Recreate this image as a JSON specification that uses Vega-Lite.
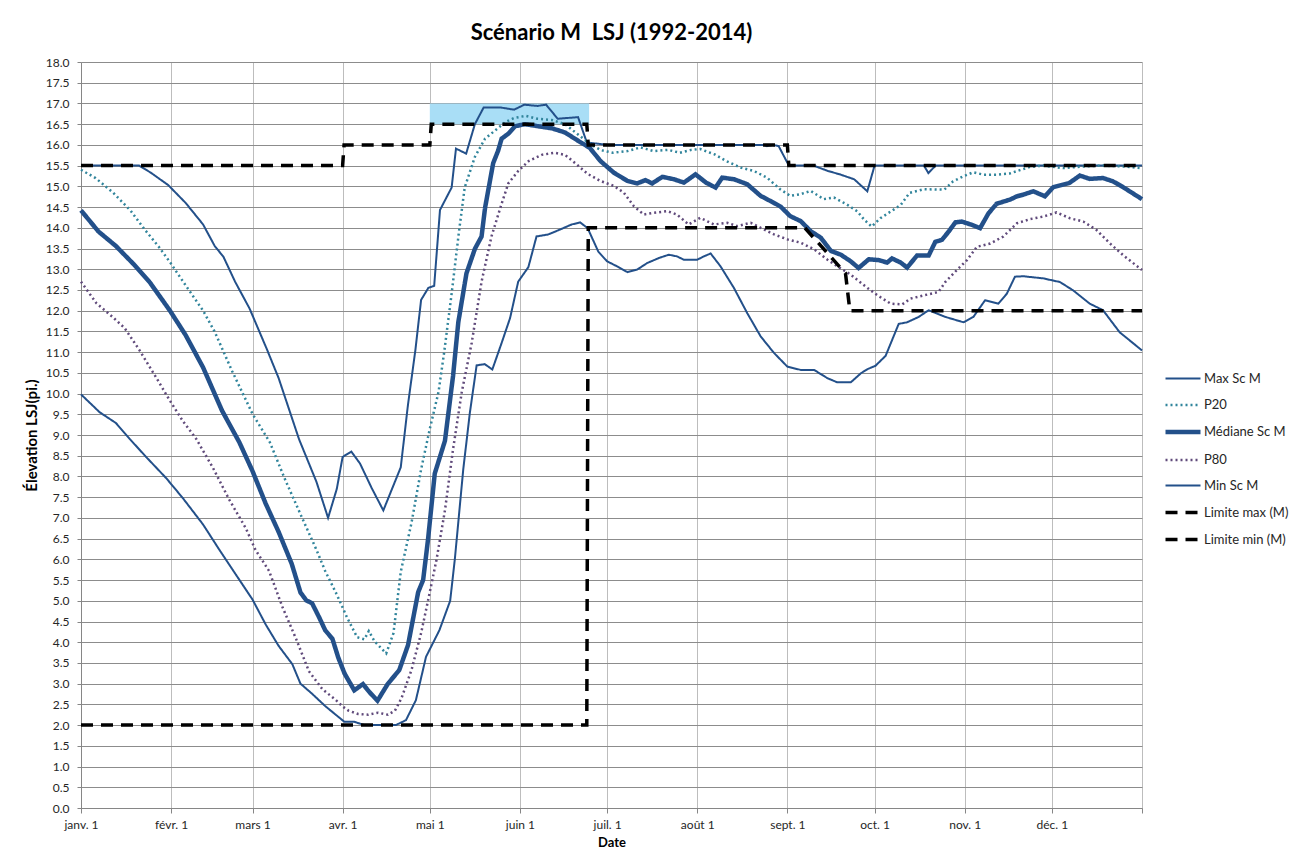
{
"$schema": "https://vega.github.io/schema/vega-lite/v6.json",
"width": 1061, "height": 746,
"autosize": {"type": "none"},
"padding": {"left": 81, "top": 62, "right": 165, "bottom": 58},
"background": "white",
"title": {"text": "Scénario M\u00a0 LSJ (1992-2014)", "fontSize": 22, "font": "Lato", "fontWeight": "bold", "color": "#000000", "anchor": "middle", "offset": 11},
"datasets": {
"zone": [{"jour": 120, "jour_fin": 174.8, "val": 16.5, "val_haut": 17.0}],
"series": [
{"serie":"Max Sc M","jour":0,"val":15.5},{"serie":"Max Sc M","jour":20,"val":15.5},{"serie":"Max Sc M","jour":24,"val":15.33},{"serie":"Max Sc M","jour":30,"val":15.03},{"serie":"Max Sc M","jour":36,"val":14.6},{"serie":"Max Sc M","jour":42,"val":14.08},{"serie":"Max Sc M","jour":46,"val":13.56},{"serie":"Max Sc M","jour":49,"val":13.3},{"serie":"Max Sc M","jour":53,"val":12.7},{"serie":"Max Sc M","jour":58,"val":12.05},{"serie":"Max Sc M","jour":64,"val":11.06},{"serie":"Max Sc M","jour":68,"val":10.37},{"serie":"Max Sc M","jour":75,"val":8.9},{"serie":"Max Sc M","jour":81,"val":7.87},{"serie":"Max Sc M","jour":85,"val":7.0},{"serie":"Max Sc M","jour":88,"val":7.7},{"serie":"Max Sc M","jour":90,"val":8.47},{"serie":"Max Sc M","jour":93,"val":8.6},{"serie":"Max Sc M","jour":96,"val":8.31},{"serie":"Max Sc M","jour":100,"val":7.72},{"serie":"Max Sc M","jour":104,"val":7.18},{"serie":"Max Sc M","jour":110,"val":8.22},{"serie":"Max Sc M","jour":112.5,"val":9.74},{"serie":"Max Sc M","jour":115,"val":11.03},{"serie":"Max Sc M","jour":117,"val":12.26},{"serie":"Max Sc M","jour":119.5,"val":12.55},{"serie":"Max Sc M","jour":121.5,"val":12.6},{"serie":"Max Sc M","jour":123.5,"val":14.43},{"serie":"Max Sc M","jour":127.5,"val":14.97},{"serie":"Max Sc M","jour":129,"val":15.91},{"serie":"Max Sc M","jour":132.5,"val":15.79},{"serie":"Max Sc M","jour":135.5,"val":16.5},{"serie":"Max Sc M","jour":138.5,"val":16.9},{"serie":"Max Sc M","jour":144.5,"val":16.9},{"serie":"Max Sc M","jour":149,"val":16.85},{"serie":"Max Sc M","jour":152.5,"val":16.97},{"serie":"Max Sc M","jour":157,"val":16.94},{"serie":"Max Sc M","jour":160,"val":16.97},{"serie":"Max Sc M","jour":164,"val":16.63},{"serie":"Max Sc M","jour":171,"val":16.67},{"serie":"Max Sc M","jour":174,"val":16.06},{"serie":"Max Sc M","jour":181,"val":16.0},{"serie":"Max Sc M","jour":235,"val":16.0},{"serie":"Max Sc M","jour":236,"val":15.97},{"serie":"Max Sc M","jour":238,"val":16.0},{"serie":"Max Sc M","jour":240,"val":15.97},{"serie":"Max Sc M","jour":243,"val":15.57},{"serie":"Max Sc M","jour":244,"val":15.5},{"serie":"Max Sc M","jour":252,"val":15.5},{"serie":"Max Sc M","jour":257,"val":15.37},{"serie":"Max Sc M","jour":261,"val":15.29},{"serie":"Max Sc M","jour":266,"val":15.17},{"serie":"Max Sc M","jour":270.5,"val":14.88},{"serie":"Max Sc M","jour":273,"val":15.5},{"serie":"Max Sc M","jour":290,"val":15.5},{"serie":"Max Sc M","jour":291.5,"val":15.32},{"serie":"Max Sc M","jour":294,"val":15.5},{"serie":"Max Sc M","jour":365,"val":15.5},
{"serie":"P20","jour":0,"val":15.4},{"serie":"P20","jour":5,"val":15.2},{"serie":"P20","jour":11,"val":14.85},{"serie":"P20","jour":17,"val":14.42},{"serie":"P20","jour":22,"val":13.95},{"serie":"P20","jour":27,"val":13.52},{"serie":"P20","jour":31,"val":13.13},{"serie":"P20","jour":36,"val":12.61},{"serie":"P20","jour":42,"val":12.0},{"serie":"P20","jour":46,"val":11.49},{"serie":"P20","jour":52,"val":10.54},{"serie":"P20","jour":59,"val":9.51},{"serie":"P20","jour":65,"val":8.82},{"serie":"P20","jour":70,"val":7.96},{"serie":"P20","jour":76,"val":7.01},{"serie":"P20","jour":81,"val":6.23},{"serie":"P20","jour":84,"val":5.72},{"serie":"P20","jour":88,"val":5.15},{"serie":"P20","jour":91.5,"val":4.6},{"serie":"P20","jour":95,"val":4.12},{"serie":"P20","jour":97.5,"val":4.07},{"serie":"P20","jour":99,"val":4.27},{"serie":"P20","jour":101,"val":4.02},{"serie":"P20","jour":105,"val":3.73},{"serie":"P20","jour":107.5,"val":4.22},{"serie":"P20","jour":110,"val":5.7},{"serie":"P20","jour":113.7,"val":6.88},{"serie":"P20","jour":117,"val":8.17},{"serie":"P20","jour":120,"val":9.15},{"serie":"P20","jour":123,"val":10.04},{"serie":"P20","jour":125,"val":11.03},{"serie":"P20","jour":127.5,"val":12.41},{"serie":"P20","jour":130,"val":13.89},{"serie":"P20","jour":132,"val":14.97},{"serie":"P20","jour":135.5,"val":15.71},{"serie":"P20","jour":139,"val":16.15},{"serie":"P20","jour":142.5,"val":16.35},{"serie":"P20","jour":146,"val":16.55},{"serie":"P20","jour":149,"val":16.65},{"serie":"P20","jour":153,"val":16.7},{"serie":"P20","jour":157,"val":16.63},{"serie":"P20","jour":162,"val":16.6},{"serie":"P20","jour":166.5,"val":16.5},{"serie":"P20","jour":171,"val":16.25},{"serie":"P20","jour":175.5,"val":16.0},{"serie":"P20","jour":179,"val":15.87},{"serie":"P20","jour":183,"val":15.81},{"serie":"P20","jour":188,"val":15.85},{"serie":"P20","jour":192.5,"val":15.94},{"serie":"P20","jour":197,"val":15.85},{"serie":"P20","jour":202,"val":15.88},{"serie":"P20","jour":206,"val":15.81},{"serie":"P20","jour":210,"val":15.88},{"serie":"P20","jour":213,"val":15.9},{"serie":"P20","jour":218,"val":15.77},{"serie":"P20","jour":222,"val":15.61},{"serie":"P20","jour":227,"val":15.45},{"serie":"P20","jour":231.5,"val":15.37},{"serie":"P20","jour":236,"val":15.21},{"serie":"P20","jour":240.5,"val":14.93},{"serie":"P20","jour":244,"val":14.77},{"serie":"P20","jour":247.5,"val":14.81},{"serie":"P20","jour":251,"val":14.89},{"serie":"P20","jour":255.5,"val":14.69},{"serie":"P20","jour":259,"val":14.73},{"serie":"P20","jour":263.5,"val":14.56},{"serie":"P20","jour":267,"val":14.4},{"serie":"P20","jour":269.5,"val":14.19},{"serie":"P20","jour":272,"val":14.03},{"serie":"P20","jour":275,"val":14.23},{"serie":"P20","jour":278.5,"val":14.39},{"serie":"P20","jour":282,"val":14.55},{"serie":"P20","jour":285,"val":14.84},{"serie":"P20","jour":290,"val":14.93},{"serie":"P20","jour":297,"val":14.92},{"serie":"P20","jour":300,"val":15.12},{"serie":"P20","jour":303.5,"val":15.24},{"serie":"P20","jour":307,"val":15.34},{"serie":"P20","jour":310.5,"val":15.28},{"serie":"P20","jour":315,"val":15.28},{"serie":"P20","jour":319.5,"val":15.31},{"serie":"P20","jour":323,"val":15.39},{"serie":"P20","jour":326.5,"val":15.47},{"serie":"P20","jour":331,"val":15.5},{"serie":"P20","jour":338,"val":15.44},{"serie":"P20","jour":345,"val":15.48},{"serie":"P20","jour":351.5,"val":15.5},{"serie":"P20","jour":358.5,"val":15.48},{"serie":"P20","jour":365,"val":15.44},
{"serie":"Médiane Sc M","jour":0,"val":14.42},{"serie":"Médiane Sc M","jour":6,"val":13.91},{"serie":"Médiane Sc M","jour":12,"val":13.56},{"serie":"Médiane Sc M","jour":18,"val":13.13},{"serie":"Médiane Sc M","jour":23.5,"val":12.7},{"serie":"Médiane Sc M","jour":30.5,"val":12.01},{"serie":"Médiane Sc M","jour":36,"val":11.41},{"serie":"Médiane Sc M","jour":42,"val":10.63},{"serie":"Médiane Sc M","jour":48.5,"val":9.59},{"serie":"Médiane Sc M","jour":54.5,"val":8.82},{"serie":"Médiane Sc M","jour":59,"val":8.13},{"serie":"Médiane Sc M","jour":63.5,"val":7.35},{"serie":"Médiane Sc M","jour":68,"val":6.66},{"serie":"Médiane Sc M","jour":72.5,"val":5.89},{"serie":"Médiane Sc M","jour":75.5,"val":5.2},{"serie":"Médiane Sc M","jour":77.5,"val":5.01},{"serie":"Médiane Sc M","jour":79.5,"val":4.94},{"serie":"Médiane Sc M","jour":82,"val":4.59},{"serie":"Médiane Sc M","jour":84,"val":4.29},{"serie":"Médiane Sc M","jour":86.5,"val":4.08},{"serie":"Médiane Sc M","jour":88.5,"val":3.63},{"serie":"Médiane Sc M","jour":90.7,"val":3.24},{"serie":"Médiane Sc M","jour":94,"val":2.84},{"serie":"Médiane Sc M","jour":97,"val":2.99},{"serie":"Médiane Sc M","jour":99.3,"val":2.79},{"serie":"Médiane Sc M","jour":102,"val":2.59},{"serie":"Médiane Sc M","jour":105.5,"val":2.99},{"serie":"Médiane Sc M","jour":109.5,"val":3.33},{"serie":"Médiane Sc M","jour":112.5,"val":3.93},{"serie":"Médiane Sc M","jour":116,"val":5.21},{"serie":"Médiane Sc M","jour":117.7,"val":5.5},{"serie":"Médiane Sc M","jour":119.4,"val":6.49},{"serie":"Médiane Sc M","jour":121.7,"val":8.07},{"serie":"Médiane Sc M","jour":125.2,"val":8.86},{"serie":"Médiane Sc M","jour":128,"val":10.43},{"serie":"Médiane Sc M","jour":129.8,"val":11.72},{"serie":"Médiane Sc M","jour":132.6,"val":12.9},{"serie":"Médiane Sc M","jour":135.5,"val":13.49},{"serie":"Médiane Sc M","jour":137.8,"val":13.79},{"serie":"Médiane Sc M","jour":139,"val":14.48},{"serie":"Médiane Sc M","jour":141.8,"val":15.56},{"serie":"Médiane Sc M","jour":143.5,"val":15.86},{"serie":"Médiane Sc M","jour":144.7,"val":16.15},{"serie":"Médiane Sc M","jour":147,"val":16.27},{"serie":"Médiane Sc M","jour":149.3,"val":16.45},{"serie":"Médiane Sc M","jour":152.7,"val":16.5},{"serie":"Médiane Sc M","jour":157.3,"val":16.45},{"serie":"Médiane Sc M","jour":162,"val":16.4},{"serie":"Médiane Sc M","jour":166.5,"val":16.3},{"serie":"Médiane Sc M","jour":171,"val":16.1},{"serie":"Médiane Sc M","jour":175,"val":15.93},{"serie":"Médiane Sc M","jour":178.7,"val":15.61},{"serie":"Médiane Sc M","jour":183.3,"val":15.33},{"serie":"Médiane Sc M","jour":188,"val":15.13},{"serie":"Médiane Sc M","jour":191.3,"val":15.07},{"serie":"Médiane Sc M","jour":194.2,"val":15.15},{"serie":"Médiane Sc M","jour":196.5,"val":15.07},{"serie":"Médiane Sc M","jour":200,"val":15.23},{"serie":"Médiane Sc M","jour":204,"val":15.17},{"serie":"Médiane Sc M","jour":207.4,"val":15.09},{"serie":"Médiane Sc M","jour":211.4,"val":15.29},{"serie":"Médiane Sc M","jour":215,"val":15.09},{"serie":"Médiane Sc M","jour":218.3,"val":14.97},{"serie":"Médiane Sc M","jour":220.6,"val":15.21},{"serie":"Médiane Sc M","jour":224.7,"val":15.17},{"serie":"Médiane Sc M","jour":229.2,"val":15.05},{"serie":"Médiane Sc M","jour":233.8,"val":14.77},{"serie":"Médiane Sc M","jour":238.4,"val":14.6},{"serie":"Médiane Sc M","jour":240.7,"val":14.51},{"serie":"Médiane Sc M","jour":244,"val":14.28},{"serie":"Médiane Sc M","jour":247.6,"val":14.16},{"serie":"Médiane Sc M","jour":251,"val":13.92},{"serie":"Médiane Sc M","jour":254.5,"val":13.76},{"serie":"Médiane Sc M","jour":258,"val":13.44},{"serie":"Médiane Sc M","jour":261.4,"val":13.35},{"serie":"Médiane Sc M","jour":264.8,"val":13.19},{"serie":"Médiane Sc M","jour":267.5,"val":13.03},{"serie":"Médiane Sc M","jour":271,"val":13.24},{"serie":"Médiane Sc M","jour":274.5,"val":13.22},{"serie":"Médiane Sc M","jour":277.3,"val":13.16},{"serie":"Médiane Sc M","jour":279,"val":13.26},{"serie":"Médiane Sc M","jour":282,"val":13.16},{"serie":"Médiane Sc M","jour":284.2,"val":13.04},{"serie":"Médiane Sc M","jour":287.6,"val":13.33},{"serie":"Médiane Sc M","jour":291.6,"val":13.33},{"serie":"Médiane Sc M","jour":293.9,"val":13.66},{"serie":"Médiane Sc M","jour":296.2,"val":13.71},{"serie":"Médiane Sc M","jour":298.5,"val":13.91},{"serie":"Médiane Sc M","jour":300.8,"val":14.13},{"serie":"Médiane Sc M","jour":303,"val":14.15},{"serie":"Médiane Sc M","jour":306.5,"val":14.07},{"serie":"Médiane Sc M","jour":309.3,"val":13.99},{"serie":"Médiane Sc M","jour":312.2,"val":14.35},{"serie":"Médiane Sc M","jour":315,"val":14.58},{"serie":"Médiane Sc M","jour":319.6,"val":14.68},{"serie":"Médiane Sc M","jour":322,"val":14.76},{"serie":"Médiane Sc M","jour":324.2,"val":14.8},{"serie":"Médiane Sc M","jour":327.6,"val":14.88},{"serie":"Médiane Sc M","jour":331.6,"val":14.76},{"serie":"Médiane Sc M","jour":334.5,"val":14.98},{"serie":"Médiane Sc M","jour":340,"val":15.08},{"serie":"Médiane Sc M","jour":343.6,"val":15.26},{"serie":"Médiane Sc M","jour":347,"val":15.18},{"serie":"Médiane Sc M","jour":351.6,"val":15.2},{"serie":"Médiane Sc M","jour":355,"val":15.12},{"serie":"Médiane Sc M","jour":358.5,"val":14.98},{"serie":"Médiane Sc M","jour":365,"val":14.69},
{"serie":"P80","jour":0,"val":12.7},{"serie":"P80","jour":5.3,"val":12.18},{"serie":"P80","jour":11,"val":11.84},{"serie":"P80","jour":15,"val":11.58},{"serie":"P80","jour":20,"val":11.06},{"serie":"P80","jour":26,"val":10.37},{"serie":"P80","jour":30.4,"val":9.85},{"serie":"P80","jour":35,"val":9.34},{"serie":"P80","jour":39.6,"val":8.91},{"serie":"P80","jour":45.3,"val":8.22},{"serie":"P80","jour":51,"val":7.44},{"serie":"P80","jour":56.7,"val":6.75},{"serie":"P80","jour":60,"val":6.23},{"serie":"P80","jour":64.7,"val":5.72},{"serie":"P80","jour":69.3,"val":4.85},{"serie":"P80","jour":74,"val":4.08},{"serie":"P80","jour":78.4,"val":3.3},{"serie":"P80","jour":83,"val":2.87},{"serie":"P80","jour":87.6,"val":2.61},{"serie":"P80","jour":90,"val":2.45},{"serie":"P80","jour":92,"val":2.35},{"serie":"P80","jour":95.3,"val":2.27},{"serie":"P80","jour":98.8,"val":2.25},{"serie":"P80","jour":102.2,"val":2.3},{"serie":"P80","jour":105.6,"val":2.25},{"serie":"P80","jour":108,"val":2.35},{"serie":"P80","jour":110.2,"val":2.64},{"serie":"P80","jour":113.7,"val":3.33},{"serie":"P80","jour":117,"val":4.22},{"serie":"P80","jour":119.4,"val":5.01},{"serie":"P80","jour":122.3,"val":5.99},{"serie":"P80","jour":125.2,"val":7.18},{"serie":"P80","jour":128,"val":8.66},{"serie":"P80","jour":131,"val":10.04},{"serie":"P80","jour":134.4,"val":11.22},{"serie":"P80","jour":137.8,"val":12.7},{"serie":"P80","jour":141.2,"val":13.79},{"serie":"P80","jour":144.7,"val":14.58},{"serie":"P80","jour":147,"val":15.07},{"serie":"P80","jour":150.4,"val":15.37},{"serie":"P80","jour":154,"val":15.61},{"serie":"P80","jour":158.5,"val":15.76},{"serie":"P80","jour":163,"val":15.81},{"serie":"P80","jour":166.5,"val":15.76},{"serie":"P80","jour":170,"val":15.56},{"serie":"P80","jour":174.3,"val":15.3},{"serie":"P80","jour":178.7,"val":15.13},{"serie":"P80","jour":183.3,"val":15.01},{"serie":"P80","jour":186.7,"val":14.85},{"serie":"P80","jour":190.2,"val":14.52},{"serie":"P80","jour":193.6,"val":14.32},{"serie":"P80","jour":197,"val":14.36},{"serie":"P80","jour":201.7,"val":14.4},{"serie":"P80","jour":205,"val":14.32},{"serie":"P80","jour":209,"val":14.08},{"serie":"P80","jour":213,"val":14.24},{"serie":"P80","jour":217.7,"val":14.08},{"serie":"P80","jour":222.3,"val":14.12},{"serie":"P80","jour":225.8,"val":14.04},{"serie":"P80","jour":230.4,"val":14.12},{"serie":"P80","jour":233.8,"val":14.0},{"serie":"P80","jour":238.4,"val":13.84},{"serie":"P80","jour":243,"val":13.72},{"serie":"P80","jour":247.6,"val":13.64},{"serie":"P80","jour":252.2,"val":13.48},{"serie":"P80","jour":256.8,"val":13.23},{"serie":"P80","jour":260.2,"val":13.07},{"serie":"P80","jour":264.8,"val":12.87},{"serie":"P80","jour":267.1,"val":12.74},{"serie":"P80","jour":270.5,"val":12.55},{"serie":"P80","jour":274,"val":12.37},{"serie":"P80","jour":278.5,"val":12.17},{"serie":"P80","jour":282.5,"val":12.15},{"serie":"P80","jour":285.3,"val":12.29},{"serie":"P80","jour":290,"val":12.37},{"serie":"P80","jour":295,"val":12.45},{"serie":"P80","jour":297.3,"val":12.69},{"serie":"P80","jour":301.3,"val":12.98},{"serie":"P80","jour":304.8,"val":13.22},{"serie":"P80","jour":308.2,"val":13.54},{"serie":"P80","jour":312.8,"val":13.62},{"serie":"P80","jour":317.3,"val":13.79},{"serie":"P80","jour":322,"val":14.11},{"serie":"P80","jour":326.5,"val":14.21},{"serie":"P80","jour":331,"val":14.27},{"serie":"P80","jour":335.6,"val":14.37},{"serie":"P80","jour":340.2,"val":14.23},{"serie":"P80","jour":344.8,"val":14.15},{"serie":"P80","jour":349.3,"val":13.95},{"serie":"P80","jour":354,"val":13.62},{"serie":"P80","jour":358.5,"val":13.34},{"serie":"P80","jour":365,"val":12.98},
{"serie":"Min Sc M","jour":0,"val":9.98},{"serie":"Min Sc M","jour":6.4,"val":9.55},{"serie":"Min Sc M","jour":12,"val":9.29},{"serie":"Min Sc M","jour":16.7,"val":8.91},{"serie":"Min Sc M","jour":22.4,"val":8.47},{"serie":"Min Sc M","jour":29.3,"val":7.96},{"serie":"Min Sc M","jour":35,"val":7.48},{"serie":"Min Sc M","jour":42,"val":6.84},{"serie":"Min Sc M","jour":47.6,"val":6.23},{"serie":"Min Sc M","jour":53.3,"val":5.63},{"serie":"Min Sc M","jour":59,"val":5.03},{"serie":"Min Sc M","jour":63.6,"val":4.42},{"serie":"Min Sc M","jour":68,"val":3.91},{"serie":"Min Sc M","jour":72.7,"val":3.47},{"serie":"Min Sc M","jour":75.5,"val":3.0},{"serie":"Min Sc M","jour":79.6,"val":2.75},{"serie":"Min Sc M","jour":84,"val":2.46},{"serie":"Min Sc M","jour":90.6,"val":2.08},{"serie":"Min Sc M","jour":94,"val":2.08},{"serie":"Min Sc M","jour":97.5,"val":2.0},{"serie":"Min Sc M","jour":108.3,"val":2.0},{"serie":"Min Sc M","jour":111.8,"val":2.12},{"serie":"Min Sc M","jour":115.2,"val":2.6},{"serie":"Min Sc M","jour":118.7,"val":3.65},{"serie":"Min Sc M","jour":123.3,"val":4.29},{"serie":"Min Sc M","jour":127,"val":5.0},{"serie":"Min Sc M","jour":128.6,"val":6.0},{"serie":"Min Sc M","jour":131.5,"val":8.17},{"serie":"Min Sc M","jour":133.8,"val":9.55},{"serie":"Min Sc M","jour":136.1,"val":10.68},{"serie":"Min Sc M","jour":138.9,"val":10.71},{"serie":"Min Sc M","jour":141.5,"val":10.58},{"serie":"Min Sc M","jour":144.7,"val":11.22},{"serie":"Min Sc M","jour":147.6,"val":11.82},{"serie":"Min Sc M","jour":150.4,"val":12.7},{"serie":"Min Sc M","jour":153.9,"val":13.05},{"serie":"Min Sc M","jour":156.7,"val":13.79},{"serie":"Min Sc M","jour":160.8,"val":13.84},{"serie":"Min Sc M","jour":164.2,"val":13.94},{"serie":"Min Sc M","jour":168.8,"val":14.08},{"serie":"Min Sc M","jour":171.7,"val":14.13},{"serie":"Min Sc M","jour":174.3,"val":13.99},{"serie":"Min Sc M","jour":178,"val":13.42},{"serie":"Min Sc M","jour":181,"val":13.19},{"serie":"Min Sc M","jour":184.4,"val":13.07},{"serie":"Min Sc M","jour":188,"val":12.93},{"serie":"Min Sc M","jour":191.3,"val":12.99},{"serie":"Min Sc M","jour":194.8,"val":13.15},{"serie":"Min Sc M","jour":198.8,"val":13.27},{"serie":"Min Sc M","jour":202.2,"val":13.35},{"serie":"Min Sc M","jour":205,"val":13.31},{"serie":"Min Sc M","jour":207.4,"val":13.23},{"serie":"Min Sc M","jour":212,"val":13.23},{"serie":"Min Sc M","jour":214.3,"val":13.31},{"serie":"Min Sc M","jour":216.6,"val":13.38},{"serie":"Min Sc M","jour":220,"val":13.07},{"serie":"Min Sc M","jour":224.6,"val":12.55},{"serie":"Min Sc M","jour":229.2,"val":11.94},{"serie":"Min Sc M","jour":233.8,"val":11.38},{"serie":"Min Sc M","jour":238.4,"val":10.98},{"serie":"Min Sc M","jour":243,"val":10.65},{"serie":"Min Sc M","jour":247.6,"val":10.57},{"serie":"Min Sc M","jour":252.2,"val":10.57},{"serie":"Min Sc M","jour":256.8,"val":10.37},{"serie":"Min Sc M","jour":260.2,"val":10.27},{"serie":"Min Sc M","jour":264.8,"val":10.27},{"serie":"Min Sc M","jour":268.3,"val":10.49},{"serie":"Min Sc M","jour":270.6,"val":10.59},{"serie":"Min Sc M","jour":273.3,"val":10.67},{"serie":"Min Sc M","jour":276.8,"val":10.91},{"serie":"Min Sc M","jour":281.3,"val":11.68},{"serie":"Min Sc M","jour":284.2,"val":11.72},{"serie":"Min Sc M","jour":288.2,"val":11.85},{"serie":"Min Sc M","jour":291.6,"val":12.01},{"serie":"Min Sc M","jour":297.3,"val":11.85},{"serie":"Min Sc M","jour":303.6,"val":11.72},{"serie":"Min Sc M","jour":307,"val":11.85},{"serie":"Min Sc M","jour":311,"val":12.25},{"serie":"Min Sc M","jour":315.6,"val":12.17},{"serie":"Min Sc M","jour":318.5,"val":12.41},{"serie":"Min Sc M","jour":321.3,"val":12.82},{"serie":"Min Sc M","jour":324.2,"val":12.83},{"serie":"Min Sc M","jour":331,"val":12.78},{"serie":"Min Sc M","jour":336.8,"val":12.69},{"serie":"Min Sc M","jour":341.3,"val":12.49},{"serie":"Min Sc M","jour":347,"val":12.17},{"serie":"Min Sc M","jour":351.6,"val":12.01},{"serie":"Min Sc M","jour":357.3,"val":11.48},{"serie":"Min Sc M","jour":365,"val":11.04},
{"serie":"Limite max (M)","jour":0,"val":15.5},{"serie":"Limite max (M)","jour":90,"val":15.5},{"serie":"Limite max (M)","jour":90.5,"val":16.0},{"serie":"Limite max (M)","jour":120,"val":16.0},{"serie":"Limite max (M)","jour":120.5,"val":16.5},{"serie":"Limite max (M)","jour":174,"val":16.5},{"serie":"Limite max (M)","jour":174.5,"val":16.0},{"serie":"Limite max (M)","jour":243,"val":16.0},{"serie":"Limite max (M)","jour":243.5,"val":15.5},{"serie":"Limite max (M)","jour":365,"val":15.5},
{"serie":"Limite min (M)","jour":0,"val":2.0},{"serie":"Limite min (M)","jour":174,"val":2.0},{"serie":"Limite min (M)","jour":174.5,"val":14.0},{"serie":"Limite min (M)","jour":249,"val":14.0},{"serie":"Limite min (M)","jour":263,"val":12.9},{"serie":"Limite min (M)","jour":264.5,"val":12.0},{"serie":"Limite min (M)","jour":365,"val":12.0}
]},
"encoding": {
  "x": {"field": "jour", "type": "quantitative", "title": "Date",
        "scale": {"domain": [0, 365], "nice": false, "zero": false},
        "axis": {"values": [0,31,59,90,120,151,181,212,243,273,304,334,365],
                 "labelExpr": "['janv. 1','févr. 1','mars 1','avr. 1','mai 1','juin 1','juil. 1','août 1','sept. 1','oct. 1','nov. 1','déc. 1',''][indexof([0,31,59,90,120,151,181,212,243,273,304,334,365], datum.value)]",
                 "grid": true, "gridColor": "#BDBDBD", "tickSize": 5, "tickColor": "#868686", "domainColor": "#868686",
                 "labelFontSize": 12, "labelPadding": 6, "labelFlush": false, "labelOverlap": false,
                 "titleFontSize": 13, "titleFontWeight": "bold", "titlePadding": 6}},
  "y": {"field": "val", "type": "quantitative", "title": "Élevation LSJ(pi.)",
        "scale": {"domain": [0, 18], "nice": false},
        "axis": {"values": [0,0.5,1,1.5,2,2.5,3,3.5,4,4.5,5,5.5,6,6.5,7,7.5,8,8.5,9,9.5,10,10.5,11,11.5,12,12.5,13,13.5,14,14.5,15,15.5,16,16.5,17,17.5,18],
                 "format": ".1f", "grid": true, "gridColor": "#8C8C8C", "tickSize": 4, "tickColor": "#868686", "domainColor": "#868686",
                 "labelFontSize": 12, "labelPadding": 8, "labelOverlap": false,
                 "titleFontSize": 15, "titleFontWeight": "bold", "titlePadding": 6}}
},
"layer": [
  {"data": {"name": "zone"}, "mark": {"type": "rect", "fill": "#A9DEF6", "opacity": 1},
   "encoding": {"x2": {"field": "jour_fin"}, "y2": {"field": "val_haut"}}},
  {"data": {"name": "series"}, "mark": {"type": "line", "interpolate": "linear"},
   "encoding": {
     "color": {"field": "serie", "type": "nominal",
        "scale": {"domain": ["Max Sc M","P20","Médiane Sc M","P80","Min Sc M","Limite max (M)","Limite min (M)"],
                  "range": ["#23508A","#31859C","#23508A","#604A7B","#23508A","#000000","#000000"]},
        "legend": {"title": null, "orient": "none", "legendX": 1082, "legendY": 298, "symbolType": "stroke", "symbolSize": 1225,
                   "labelFontSize": 13, "labelColor": "#262626", "rowPadding": -1, "labelOffset": 1}},
     "strokeDash": {"field": "serie", "type": "nominal",
        "scale": {"domain": ["Max Sc M","P20","Médiane Sc M","P80","Min Sc M","Limite max (M)","Limite min (M)"],
                  "range": [[1,0],[2,3],[1,0],[2,3],[1,0],[12,8],[12,8]]}},
     "strokeWidth": {"field": "serie", "type": "nominal",
        "scale": {"type": "ordinal", "domain": ["Max Sc M","P20","Médiane Sc M","P80","Min Sc M","Limite max (M)","Limite min (M)"],
                  "range": [2,2.5,4.5,2.5,2,3.5,3.5]}}
   }}
],
"config": {"font": "Lato", "view": {"stroke": null},
  "axis": {"labelColor": "#262626", "titleColor": "#000000", "labelFont": "Lato", "titleFont": "Lato"},
  "legend": {"labelFont": "Lato"}}
}
